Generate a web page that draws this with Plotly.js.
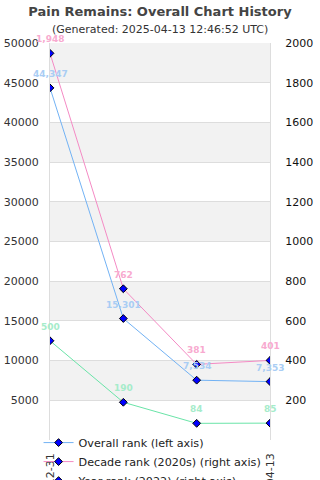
<!DOCTYPE html>
<html>
<head>
<meta charset="utf-8">
<script src="https://cdn.plot.ly/plotly-3.0.1.min.js"></script>
<style>html,body{margin:0;padding:0;background:#fff;}#chart{width:320px;height:480px;}</style>
</head>
<body>
<div id="chart"></div>
<script>
const dates = ["2022-12-31", "2023-12-31", "2024-12-31", "2025-04-13"];
const overallRank = [44347, 15301, 7534, 7353];
const decadeRank = [1948, 762, 381, 401];
const yearRank = [500, 190, 84, 85];
const seriesNames = ["Overall rank (left axis)", "Decade rank (2020s) (right axis)", "Year rank (2022) (right axis)"];

const lineColors = ["#72b2f4", "#f48ac4", "#6ae4a8"];
const labelColors = ["#a9cdf4", "#f8aacf", "#a6ecca"];
const FONT = "DejaVu Sans, sans-serif";

const seriesData = [overallRank, decadeRank, yearRank];
const axesRef = ["y", "y2", "y2"];

const traces = seriesData.map((vals, i) => ({
  type: "scatter",
  mode: "lines+markers",
  x: dates,
  y: vals,
  yaxis: axesRef[i],
  name: seriesNames[i],
  line: {color: lineColors[i], width: 1},
  marker: {symbol: "diamond", size: 6, color: "#0000ff", line: {color: "#000", width: 1}},
  cliponaxis: true,
  hoverinfo: "x+y+name"
}));

const annotations = [];
seriesData.forEach((vals, i) => {
  vals.forEach((v, j) => {
    annotations.push({
      x: dates[j], y: v, xref: "x", yref: axesRef[i],
      text: v.toLocaleString("en-US"),
      showarrow: false, yshift: 14,
      font: {family: FONT, size: 9, color: labelColors[i], weight: "bold"}
    });
  });
});
annotations.push({
  xref: "paper", yref: "paper", x: 0.5, y: (440 - 29) / 397,
  xanchor: "center", yanchor: "middle", showarrow: false,
  text: "(Generated: 2025-04-13 12:46:52 UTC)",
  font: {family: FONT, size: 11, color: "#333"}
});

const leftTicks = [];
for (let v = 5000; v <= 50000; v += 5000) leftTicks.push(v);
const rightTicks = [];
for (let v = 200; v <= 2000; v += 200) rightTicks.push(v);

const shapes = [];
for (let v = 5000; v < 50000; v += 10000) {
  shapes.push({type: "rect", xref: "paper", yref: "y", x0: 0, x1: 1, y0: v, y1: v + 5000,
    fillcolor: "#f2f2f2", line: {width: 0}, layer: "below"});
}
// white legend backdrop (covers the middle date labels, as in the reference)
shapes.push({type: "rect", xref: "paper", yref: "paper", x0: 5/220, x1: 214/220,
  y0: -45/397, y1: -3/397, fillcolor: "#fff", line: {width: 0}, layer: "above"});

const layout = {
  width: 320, height: 480,
  margin: {l: 50, r: 50, t: 43, b: 40, autoexpand: false},
  paper_bgcolor: "#fff", plot_bgcolor: "rgba(0,0,0,0)",
  font: {family: FONT, size: 11, color: "#333"},
  title: {text: "Pain Remains: Overall Chart History", x: 0.5, xanchor: "center",
    y: 1 - 11/480, yanchor: "middle", yref: "container",
    font: {family: FONT, size: 13, color: "#444", weight: "bold"}},
  showlegend: true,
  legend: {x: -0.052, y: 0.03, xanchor: "left", yanchor: "top", bgcolor: "rgba(0,0,0,0)",
    font: {family: FONT, size: 11.2, color: "#222"}, tracegroupgap: 0},
  xaxis: {type: "category", range: [0, 3], tickangle: -90, showgrid: false, zeroline: false,
    showline: false, ticks: "", ticklabelstandoff: 10, automargin: false,
    tickfont: {family: FONT, size: 11, color: "#333"}},
  yaxis: {range: [0, 50000], tickmode: "array", tickvals: leftTicks, tickformat: "d",
    showgrid: true, gridcolor: "#dddddd", automargin: false,
    zeroline: false, showline: true, linecolor: "#dddddd", ticks: "", ticklabelstandoff: 8,
    tickfont: {family: FONT, size: 11, color: "#333"}},
  yaxis2: {range: [0, 2000], overlaying: "y", side: "right", tickmode: "array", tickvals: rightTicks,
    tickformat: "d", automargin: false,
    showgrid: false, zeroline: false, showline: true, linecolor: "#dddddd", ticks: "", ticklabelstandoff: 12,
    tickfont: {family: FONT, size: 11, color: "#111"}},
  shapes: shapes,
  annotations: annotations
};

Plotly.newPlot("chart", traces, layout, {displayModeBar: false, staticPlot: true});
</script>
</body>
</html>
